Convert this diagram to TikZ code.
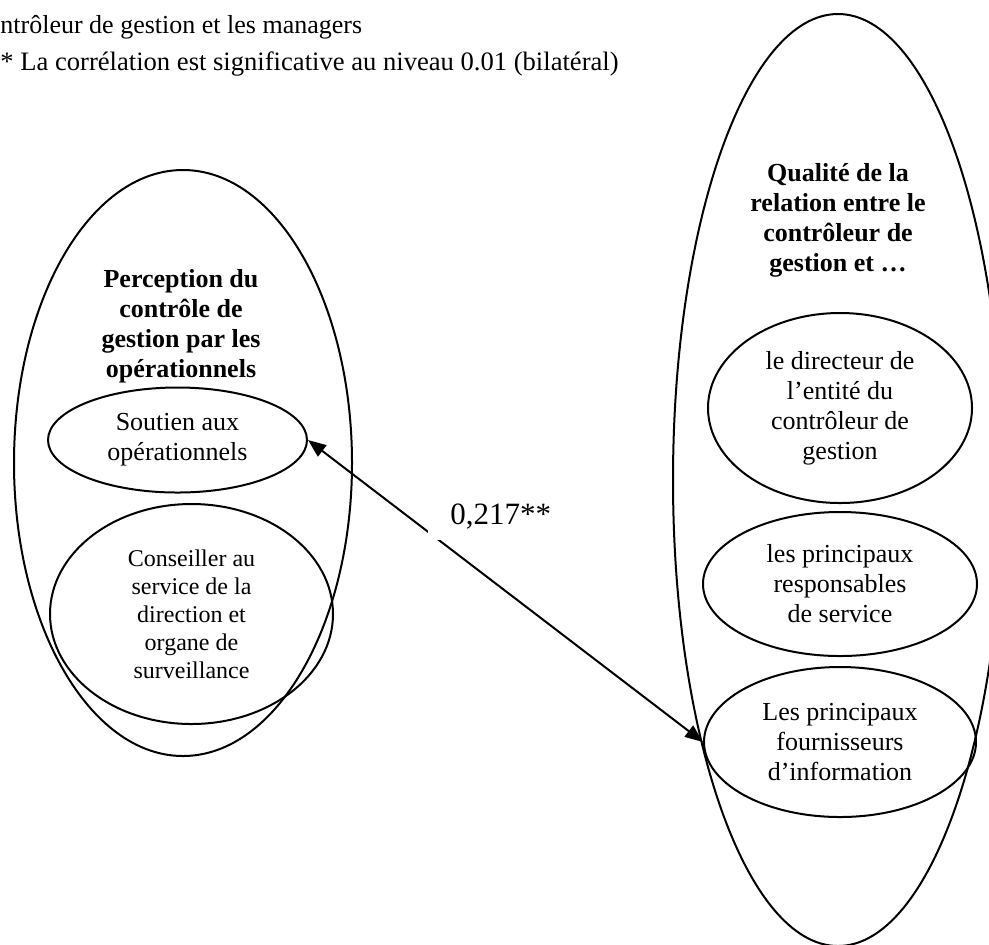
\documentclass[tikz,border=0pt]{standalone}
\usepackage{fontspec}
\setmainfont{Liberation Serif}
\usetikzlibrary{shapes.geometric,arrows.meta}

\begin{document}
\begin{tikzpicture}[x=0.5pt,y=-0.5pt,
    bulle/.style={draw, ellipse, line width=1pt, inner sep=0pt, align=center,
      font=\fontsize{13}{15}\selectfont},
    titre/.style={align=center, inner sep=0pt, font=\fontsize{13}{15}\selectfont\bfseries},
    note/.style={anchor=base west, inner sep=0pt, font=\fontsize{13}{15}\selectfont},
    pointe/.tip={Triangle[length=9pt,width=7pt]}]
  \useasboundingbox (0,0) rectangle (989,944);
  \clip (0,0) rectangle (989,944);
  % notes du haut
  \node[note] (note1) at (0,33) {ntrôleur de gestion et les managers};
  \node[note, font=\fontsize{13.3}{15}\selectfont] (note2) at (0,70) {* La corrélation est significative au niveau 0.01 (bilatéral)};
  % perception du controle de gestion
  \node[bulle, minimum width=169pt, minimum height=293pt] (percep) at (183,463) {};
  \node[titre] (perceptitre) at (181,326) {Perception du\\contrôle de\\gestion par les\\opérationnels};
  \node[bulle, minimum width=129.5pt, minimum height=52.5pt] (soutien) at (177.5,440) {Soutien aux\\opérationnels};
  \node[bulle, minimum width=141.5pt, minimum height=110pt, font=\fontsize{12}{14}\selectfont] (conseil) at (191.5,614)
    {Conseiller au\\service de la\\direction et\\organe de\\surveillance};
  % qualite de la relation
  \node[bulle, minimum width=165pt, minimum height=466pt] (qualite) at (838,480) {};
  \node[titre] (qualitetitre) at (838,220) {Qualité de la\\relation entre le\\contrôleur de\\gestion et …};
  \node[bulle, minimum width=132pt, minimum height=95pt] (directeur) at (840,408)
    {le directeur de\\l’entité du\\contrôleur de\\gestion};
  \node[bulle, minimum width=137pt, minimum height=72pt] (respons) at (840,584)
    {les principaux\\responsables\\de service};
  \node[bulle, minimum width=136pt, minimum height=75pt] (fourn) at (840,742)
    {Les principaux\\fournisseurs\\d’information};
  % correlation
  \draw[pointe-pointe, line width=1pt] (soutien.east) -- (fourn.west);
  \node[fill=white, inner xsep=11pt, inner ysep=5.3pt, anchor=south west, font=\fontsize{15.5}{18}\selectfont] (corr) at (428,540) {0,217**};
\end{tikzpicture}
\end{document}
